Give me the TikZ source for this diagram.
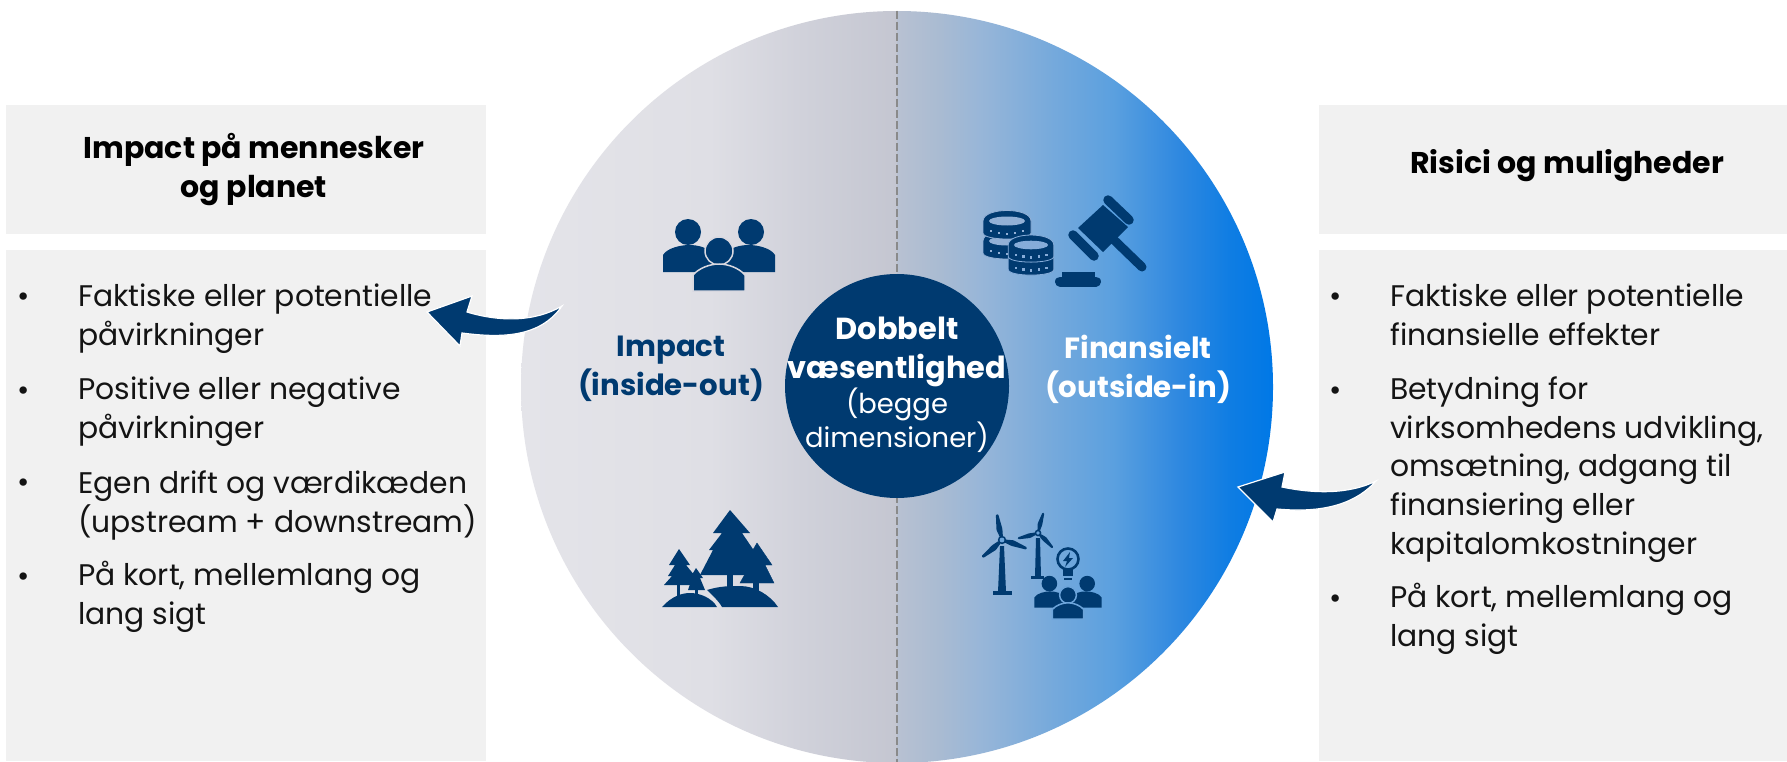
\documentclass[tikz,border=0pt]{standalone}
\usepackage{fontspec}
\setmainfont{Poppins}
\definecolor{navy}{HTML}{003A70}
\definecolor{boxgray}{HTML}{F1F1F1}
\definecolor{inkblack}{HTML}{141414}
\definecolor{dashgray}{HTML}{8A8A8A}
\definecolor{peoplegap}{HTML}{D8D8E0}
\definecolor{coinbga}{HTML}{92B0D6}
\definecolor{coinbgb}{HTML}{86ACD9}
\definecolor{windgap}{HTML}{6CA4DA}
\definecolor{graya}{HTML}{E4E4E9}
\definecolor{grayb}{HTML}{DFDFE5}
\definecolor{grayc}{HTML}{D0D1DA}
\definecolor{grayd}{HTML}{C4C6D1}
\definecolor{bluea}{HTML}{B8C1D2}
\definecolor{blueb}{HTML}{A9BBD2}
\definecolor{bluec}{HTML}{98B6D8}
\definecolor{blued}{HTML}{72A8DC}
\definecolor{bluee}{HTML}{5BA0DF}
\definecolor{bluef}{HTML}{2E88E0}
\definecolor{blueg}{HTML}{0F7DE3}
\definecolor{blueh}{HTML}{0078E6}
\pgfdeclarehorizontalshading{grayfade}{100bp}{
  color(0bp)=(graya); color(25bp)=(graya); color(50bp)=(grayb);
  color(62.5bp)=(grayc); color(75bp)=(grayd); color(100bp)=(grayd)}
\pgfdeclarehorizontalshading{bluefade}{100bp}{
  color(0bp)=(bluea); color(25bp)=(bluea); color(30.7bp)=(blueb); color(36bp)=(bluec);
  color(46.7bp)=(blued); color(53.7bp)=(bluee); color(62.6bp)=(bluef);
  color(69.3bp)=(blueg); color(75bp)=(blueh); color(100bp)=(blueh)}
\tikzset{
  headbox/.style={fill=boxgray,draw=none},
  headtext/.style={font=\fontsize{30}{39}\selectfont\bfseries,text=black,align=center,inner sep=0pt},
  bodytext/.style={font=\fontsize{29.8}{38.6}\selectfont,text=inkblack,align=left,anchor=base west,inner sep=0pt},
  bullettext/.style={font=\fontsize{29.8}{39}\selectfont,text=inkblack,anchor=base,inner sep=0pt},
  sidetext/.style={font=\fontsize{29.2}{39}\selectfont\bfseries,align=center,inner sep=0pt},
  swoosh/.style={fill=navy,draw=white,line width=1.2pt,line join=miter},
  people/.pic={
    \fill[navy] (-31,-19) circle (13);
    \fill[navy] (32,-19) circle (13);
    \fill[navy] (-56,21) -- (-56,4) .. controls (-52,-3) and (-38,-6) .. (-30,-6) .. controls (-20,-6) and (-10,-3) .. (-6,4) -- (-6,21) -- cycle;
    \fill[navy] (56,21) -- (56,4) .. controls (52,-3) and (38,-6) .. (30,-6) .. controls (20,-6) and (10,-3) .. (6,4) -- (6,21) -- cycle;
    \draw[fill=navy,draw=#1,line width=1.5pt] (0,0) circle (14);
    \draw[fill=navy,draw=#1,line width=1.5pt] (-26,40) -- (-26,24) .. controls (-20,17) and (-9,13) .. (0,13) .. controls (9,13) and (20,17) .. (26,24) -- (26,40) -- cycle;
  },
  coin/.pic={
    \draw[fill=navy,draw=#1,line width=.8pt] (-24,0) -- (-24,12) .. controls (-24,20) and (24,20) .. (24,12) -- (24,0) .. controls (24,-14) and (-24,-14) .. (-24,0) -- cycle;
    \fill[#1] (0,0) ellipse (18 and 4.5);
    \foreach \x/\y in {-17/9,-9/11,-1/12,7/11,15/9}
      \fill[#1] (\x,\y) rectangle ++(2.4,2.4);
  },
  turbine/.pic={
    \foreach \a in {0,120,240}
      \fill[navy,rotate=#1+\a,rounded corners=.8pt] (-1.5,-3) -- (-3.5,-11) -- (-1.2,-26) -- (1.2,-26) -- (2.5,-11) -- (1.5,-3) -- cycle;
    \fill[navy] (0,0) circle (4.2);
    \fill[windgap] (0,0) circle (2.4);
  },
}
\begin{document}
\begin{tikzpicture}[x=1pt,y=-1pt]
\useasboundingbox (0,0) rectangle (1787,762);
\fill[white] (0,0) rectangle (1787,762);
% boxes
\fill[headbox] (6,105) rectangle (486,234);
\fill[headbox] (6,250) rectangle (486,761);
\fill[headbox] (1319,105) rectangle (1787,234);
\fill[headbox] (1319,250) rectangle (1787,761);
% big circle
\begin{scope}
\clip (897,387) circle (376);
\shade[shading=grayfade] (521,0) rectangle (897,762);
\shade[shading=bluefade] (897,0) rectangle (1273,762);
\end{scope}
\draw[dashgray,line width=2.7pt,dash pattern=on 8pt off 3pt] (897,11) -- (897,762);
\fill[navy] (897,386) circle (112);
% center text
\node[font=\fontsize{30.4}{39}\selectfont\bfseries,text=white,align=center,inner sep=0pt] (dobbelt) at (897,352) {Dobbelt\\væsentlighed};
\node[font=\fontsize{27.4}{34}\selectfont,text=white,align=center,inner sep=0pt] (begge) at (897,420.5) {(begge\\dimensioner)};
\node[sidetext,text=navy] (impact) at (671,369) {Impact\\(inside-out)};
\node[sidetext,text=white] (finans) at (1138,369) {Finansielt\\(outside-in)};
% headers
\node[headtext] (lefthead) at (254,169.5) {Impact på mennesker\\og planet};
\node[headtext] (righthead) at (1567,165.5) {Risici og muligheder};
% left list
\node[bullettext] (lb1) at (24,306) {•};
\node[bodytext] (lt1) at (78,345) {Faktiske eller potentielle\\påvirkninger};
\node[bullettext] (lb2) at (24,400) {•};
\node[bodytext] (lt2) at (78,438) {Positive eller negative\\påvirkninger};
\node[bullettext] (lb3) at (24,492) {•};
\node[bodytext] (lt3) at (78,532) {Egen drift og værdikæden\\(upstream + downstream)};
\node[bullettext] (lb4) at (24,586) {•};
\node[bodytext] (lt4) at (78,624) {På kort, mellemlang og\\lang sigt};
% right list
\node[bullettext] (rb1) at (1336,306) {•};
\node[bodytext] (rt1) at (1390,345) {Faktiske eller potentielle\\finansielle effekter};
\node[bullettext] (rb2) at (1336,400) {•};
\node[bodytext] (rt2) at (1390,554) {Betydning for\\virksomhedens udvikling,\\omsætning, adgang til\\finansiering eller\\kapitalomkostninger};
\node[bullettext] (rb3) at (1336,608) {•};
\node[bodytext] (rt3) at (1390,646) {På kort, mellemlang og\\lang sigt};
% swooshes
\draw[swoosh] (427,312) -- (472,296) -- (467,312) .. controls (500,322) and (535,322) .. (562,306) .. controls (540,338) and (500,338) .. (462,333) -- (460,346) -- cycle;
\draw[swoosh] (1238,487) -- (1285,472) -- (1282,487) .. controls (1315,494) and (1350,494) .. (1376,481) .. controls (1350,510) and (1310,512) .. (1277,509) -- (1273,522) -- cycle;
% people icon
\pic at (719,251) {people=peoplegap};
% coins
\pic at (1007,241) {coin=coinbga};
\pic at (1007,221) {coin=coinbga};
\pic[scale=.95] at (1031,258) {coin=coinbgb};
\pic[scale=.95] at (1031,245) {coin=coinbgb};
% gavel
\draw[navy,line width=9pt,line cap=round] (1112,238) -- (1142,267);
\fill[navy] (1078,228) -- (1103,205) -- (1128,227) -- (1103,252) -- cycle;
\draw[navy,line width=9.5pt,line cap=round] (1108,200) -- (1129,220);
\draw[navy,line width=9.5pt,line cap=round] (1073,235) -- (1094,256);
\fill[navy] (1062,272) rectangle (1095,278);
\draw[navy,line width=10pt,line cap=round] (1060,281.5) -- (1096,281.5);
% trees
\fill[navy] (730,510) -- (750,533) -- (742,533) -- (759,558) -- (748,558) -- (760,575) -- (700,575) -- (713,550) -- (709,550) -- (722,533) -- (713,533) -- cycle;
\fill[navy] (727,570) rectangle (733,590);
\draw[fill=navy,draw=navy] (757,543) -- (772,565) -- (765,565) -- (774,583) -- (740,583) -- (750,565) -- (744,565) -- cycle;
\fill[navy] (753,580) rectangle (759,595);
\fill[navy] (679,549) -- (690,565) -- (686,565) -- (695,576) -- (691,576) -- (699,585) -- (664,585) -- (672,576) -- (668,576) -- (675,565) -- (669,565) -- cycle;
\fill[navy] (677,583) rectangle (680,600);
\fill[navy] (696,568) -- (703,578) -- (700,578) -- (705,590) -- (688,590) -- (692,578) -- (690,578) -- cycle;
\fill[navy] (695,588) rectangle (698,600);
\fill[navy] (662,607) .. controls (672,596) and (682,593) .. (690,593) .. controls (700,593) and (712,598) .. (717,607) -- cycle;
\fill[navy] (722,607) .. controls (718,600) and (712,595) .. (707,590) .. controls (720,586) and (730,586) .. (740,586) .. controls (755,586) and (770,595) .. (778,607) -- cycle;
% wind and bulb
\fill[navy] (1000,546) -- (1004,546) -- (1006,592) -- (998,592) -- cycle;
\fill[navy] (993,591) rectangle (1012,595);
\pic at (1002,540) {turbine=11};
\fill[navy] (1036,538) -- (1040,538) -- (1041,577) -- (1035,577) -- cycle;
\fill[navy] (1031,576) rectangle (1044,578.5);
\pic[scale=.8] at (1038,533) {turbine=-15};
\draw[navy,line width=2.6pt] (1068,559) circle (10.5);
\fill[navy] (1070,552) -- (1063,561) -- (1067,561) -- (1065,567) -- (1073,558) -- (1069,558) -- cycle;
\fill[navy] (1063,570) -- (1073,570) -- (1073,576) -- (1063,576) -- cycle;
\fill[navy] (1064,577.5) rectangle (1072,580);
\pic[scale=.6] at (1068,595) {people=windgap};
\end{tikzpicture}
\end{document}
